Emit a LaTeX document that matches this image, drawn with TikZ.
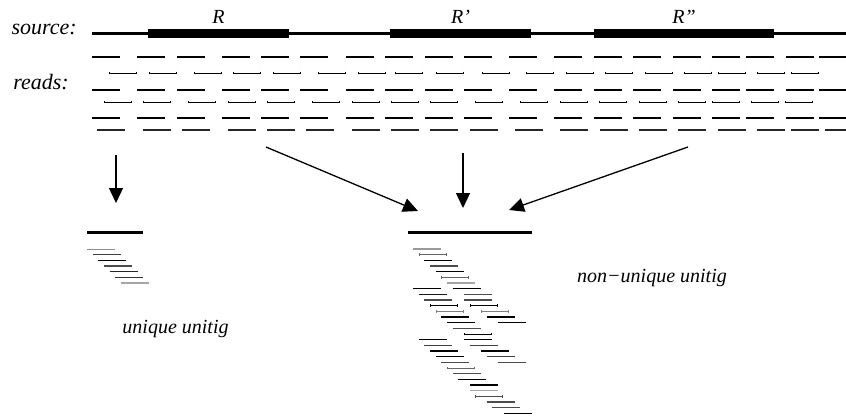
\documentclass[tikz,border=0pt]{standalone}
\usepackage{fontspec}
\setmainfont{Liberation Serif}
\usetikzlibrary{positioning}
\usetikzlibrary{arrows.meta}

\tikzset{
  lbl/.style={font=\fontsize{20}{24}\selectfont\itshape, inner sep=0pt},
  sidelbl/.style={font=\fontsize{22}{26}\selectfont\itshape, inner sep=0pt, anchor=base east},
  replbl/.style={font=\fontsize{20}{24}\selectfont\itshape, inner sep=0pt},
  dna/.style={line width=3pt},
  rep/.style={line width=9pt},
  rd/.style={line width=1.4pt},
  rdthin/.style={line width=.7pt, {Bar[width=2.6pt,line width=.9pt]}-{Bar[width=2.6pt,line width=.9pt]}},
  utg/.style={line width=3pt},
  fold/.style={line width=1.3pt, -{Triangle[length=15pt,width=14pt]}},
}

\begin{document}
\begin{tikzpicture}[x=1pt,y=-1pt]
	\useasboundingbox (0,0) rectangle (846,417);

	% source genome and the three copies of the repeat
	\node[sidelbl] (src) at (77,35) {source:};
	\node[sidelbl] (rds) at (69,90) {reads:};
	\coordinate (s0) at (92,34);
	\coordinate (s1) at (850,34);
	\draw[dna] (s0) -- (s1);
	\foreach \a/\b/\n/\t in {148/289/r1/R, 390/531/r2/R’, 594/774/r3/R”} {
		\draw[rep] (\a,34) -- (\b,34);
		\coordinate (\n) at ({(\a+\b)/2},34);
		\node[replbl] (\n-lbl) [above = 10pt of \n] {\t};
	}

	% shotgun reads
	\foreach \y in {57,90,118}
		\foreach \x in {92,137,177,222,261,300,346,385,425,464,509,554,594,633,673,712,746,786,819}
			\draw[rd] (\x,\y) -- ++(28,0);
	\foreach \x in {109,149,194,233,273,318,358,395,436,482,526,566,605,645,684,718,757,791}
		\draw[rdthin] (\x,73) -- ++(28,0);
	\foreach \x in {104,143,188,228,267,312,352,391,430,475,520,560,599,639,678,712,751,785}
		\draw[rdthin] (\x,102) -- ++(28,0);
	\foreach \x in {97,143,182,228,267,306,352,391,430,470,515,560,600,639,678,718,757,791,825}
		\draw[rd, draw=black!85] (\x,130) -- ++(28,0);

	% unique unitig
	\coordinate (u1a) at (87,232);
	\coordinate (u1b) at (143,232);
	\draw[utg] (u1a) -- (u1b);
	\foreach \r/\c/\w in {0/black!45/.9, 2/black/1, 3/black!70/1.6, 4/black!85/1.2, 6/black!35/1.4}
		\draw[line width=\w pt, draw=\c] ({87+\r*5.667},{249+\r*5.667}) -- ++(28,0);
	\foreach \r/\c in {1/black!75, 5/black!80}
		\draw[line width=.9pt, draw=\c] ({87+\r*5.667},{249+\r*5.667}) -- ++(28,0);
	\node[lbl, anchor=base] (uniq) at (175.5,333) {unique unitig};

	% non-unique unitig, reads from all three copies pile up here
	\coordinate (u2a) at (408,232);
	\coordinate (u2b) at (532,232);
	\draw[utg] (u2a) -- (u2b);
	\foreach \r/\k/\c in {0/0/black!40, 2/2/black, 3/3/black!70, 4/4/black, 6/6/black!35,
			7/0/black, 7/7/black, 8/1/black!90, 8/9/black!70, 9/2/black!70, 9/9/black!70,
			12/5/black, 12/13/black, 13/6/black, 13/15/black, 14/7/black!70,
			16/1/black, 16/9/black, 17/2/black!75, 17/10/black!75, 18/3/black, 18/12/black,
			19/4/black, 19/13/black!75, 20/5/black!70, 20/15/black!70, 22/7/black!70,
			23/8/black, 24/10/black, 25/10/black!35, 27/13/black!70, 28/14/black!70, 29/16/black}
		\draw[rd, draw=\c] ({413+\k*5.667},{249+\r*5.667}) -- ++(28,0);
	\foreach \r/\k/\c in {1/1/black!60, 5/5/black!60, 10/3/black, 10/10/black,
			11/4/black!50, 11/12/black!50, 15/9/black, 21/6/black!60, 26/11/black!70}
		\draw[rdthin, draw=\c] ({413+\k*5.667},{249+\r*5.667}) -- ++(28,0);
	\node[lbl, anchor=base] (nonuniq) at (652,282) {non−unique unitig};

	% reads are assembled into the unitigs
	\coordinate (a1) at (116,155);
	\coordinate (t1) at (116,203);
	\coordinate (a2) at (266,147);
	\coordinate (t2) at (418,211);
	\coordinate (a3) at (463,153);
	\coordinate (t3) at (463,208);
	\coordinate (a4) at (688,147);
	\coordinate (t4) at (509,210);
	\draw[fold] (a1) -- (t1);
	\draw[fold] (a2) -- (t2);
	\draw[fold] (a3) -- (t3);
	\draw[fold] (a4) -- (t4);
\end{tikzpicture}
\end{document}
